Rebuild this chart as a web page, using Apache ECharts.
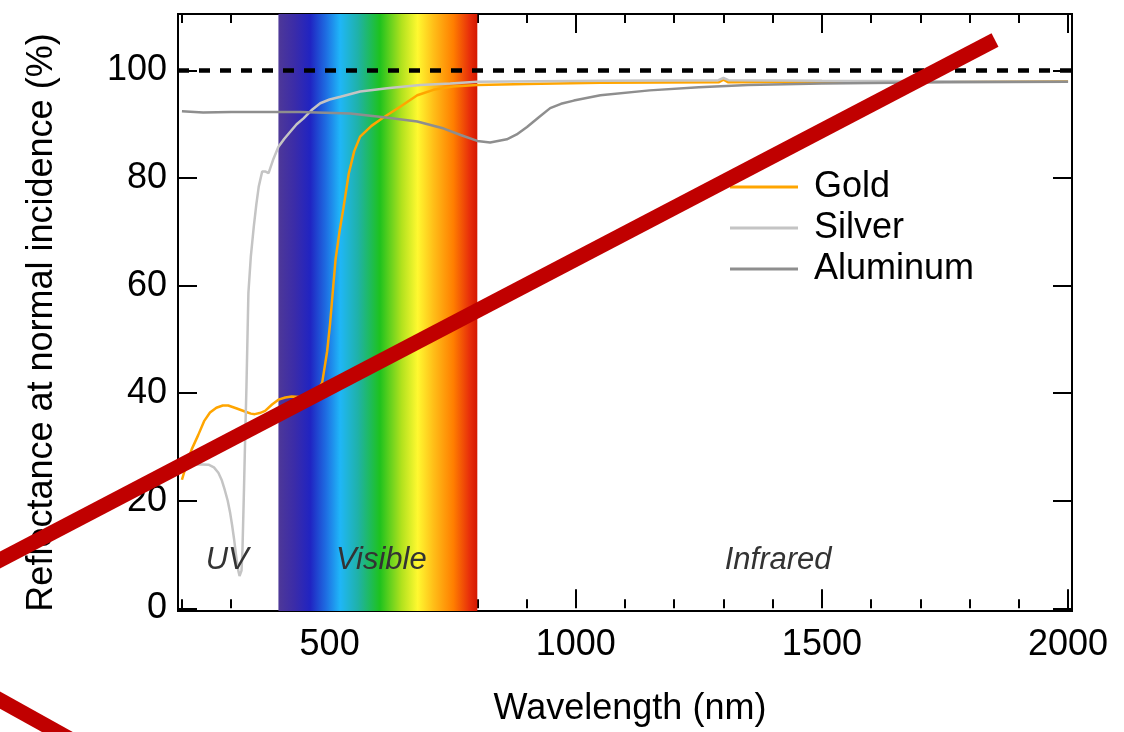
<!DOCTYPE html>
<html>
<head>
<meta charset="utf-8">
<script src="https://cdn.jsdelivr.net/npm/echarts@6/dist/echarts.min.js"></script>
<style>
  html, body { margin: 0; padding: 0; background: #ffffff; }
  #chart { width: 1124px; height: 732px; }
</style>
</head>
<body>
<div id="chart"></div>
<script>
// Reflectance at normal incidence of metal mirrors, [wavelength (nm), reflectance (%)]
const gold = [
  [200, 23.9], [210, 27.0], [220, 29.6], [233, 32.2], [245, 34.8], [257, 36.4],
  [270, 37.3], [283, 37.7], [294, 37.7], [310, 37.2], [328, 36.6], [340, 36.2],
  [348, 36.1], [358, 36.3], [369, 36.7], [383, 37.9], [396, 38.8], [410, 39.2],
  [423, 39.4], [440, 39.3], [460, 39.3], [475, 40.3], [485, 42.0], [495, 47.8],
  [501, 53.0], [507, 59.5], [512, 64.8], [520, 70.0], [528, 74.4], [539, 80.9],
  [550, 85.0], [562, 87.7], [585, 89.7], [610, 91.3], [644, 93.3], [678, 95.4],
  [711, 96.4], [750, 97.0], [800, 97.3], [900, 97.5], [1050, 97.7], [1290, 97.8],
  [1300, 98.3], [1310, 97.8], [1500, 97.9], [2000, 98.0]
];
const silver = [
  [200, 26.6], [230, 26.8], [254, 26.7], [265, 26.2], [274, 25.2], [281, 23.8],
  [287, 22.0], [293, 20.0], [298, 17.7], [302, 15.4], [306, 12.8], [310, 9.8],
  [314, 7.2], [317, 6.0], [319, 5.8], [321, 7.0], [323, 11.0], [326, 22.0],
  [328, 30.0], [331, 41.0], [335, 58.6], [340, 65.5], [346, 71.0], [351, 75.0],
  [356, 78.4], [363, 81.2], [370, 81.2], [376, 80.9], [386, 83.6], [396, 85.8],
  [408, 87.3], [420, 88.6], [433, 90.0], [447, 91.1], [463, 92.6], [481, 93.9],
  [500, 94.6], [522, 95.1], [562, 96.1], [617, 96.7], [684, 97.3], [745, 97.6],
  [800, 97.9], [1050, 98.1], [1290, 98.2], [1300, 98.6], [1310, 98.2], [1500, 98.1],
  [2000, 97.9]
];
const aluminum = [
  [200, 92.4], [243, 92.2], [300, 92.3], [440, 92.3], [542, 92.0], [610, 91.3],
  [678, 90.5], [732, 89.2], [766, 88.0], [800, 86.9], [826, 86.6], [860, 87.2],
  [880, 88.1], [901, 89.5], [925, 91.3], [948, 93.0], [970, 93.8], [996, 94.4],
  [1050, 95.4], [1150, 96.3], [1250, 96.9], [1350, 97.3], [1500, 97.6], [1750, 97.8],
  [2000, 97.9]
];

// Axis ranges and tick positions
const xRange = [192, 2008];
const yRange = [-0.5, 110.5];
const xMajorTicks = [500, 1000, 1500, 2000];
const xMinorTicks = [200, 300, 400, 500, 600, 700, 800, 900, 1000, 1100, 1200, 1300,
                     1400, 1500, 1600, 1700, 1800, 1900, 2000];
const yTicks = [0, 20, 40, 60, 80, 100];

// Spectral regions
const visibleRange = [396, 800];
const perfectReflector = 100;
const regionLabels = [
  { name: 'UV', value: [292, 8.9] },
  { name: 'Visible', value: [605, 8.9] },
  { name: 'Infrared', value: [1411, 8.9] }
];

const FONT = "'Liberation Sans', Arial, Helvetica, sans-serif";
const tickStyle = { color: '#000', width: 2 };

function xAxisLayer(position, ticks, len, withLabels) {
  return {
    type: 'value', position: position, min: xRange[0], max: xRange[1],
    axisLine: { show: false },
    splitLine: { show: false },
    axisTick: { show: true, inside: true, length: len, customValues: ticks, lineStyle: tickStyle },
    axisLabel: withLabels
      ? { show: true, customValues: xMajorTicks, margin: 16, fontSize: 36, color: '#000',
          fontFamily: FONT, formatter: v => String(v) }
      : { show: false }
  };
}

const chart = echarts.init(document.getElementById('chart'));
chart.setOption({
  animation: false,
  backgroundColor: '#ffffff',
  grid: {
    left: 178, right: 52, top: 14, bottom: 121,
    show: true, borderColor: '#000', borderWidth: 2, backgroundColor: 'transparent'
  },
  legend: {
    orient: 'vertical', left: 725, top: 164,
    icon: 'rect', itemWidth: 68, itemHeight: 3, itemGap: 5,
    data: ['Gold', 'Silver', 'Aluminum'],
    textStyle: { fontSize: 36, color: '#000', fontFamily: FONT, padding: [0, 0, 0, 11] }
  },
  xAxis: [
    Object.assign(xAxisLayer('bottom', xMajorTicks, 19, true), {
      name: 'Wavelength (nm)', nameLocation: 'middle', nameGap: 80,
      nameTextStyle: { fontSize: 36, color: '#000', fontFamily: FONT, padding: [0, 0, 0, 10] }
    }),
    xAxisLayer('bottom', xMinorTicks, 9, false),
    xAxisLayer('top', xMajorTicks, 19, false),
    xAxisLayer('top', xMinorTicks, 9, false)
  ],
  yAxis: [
    {
      type: 'value', position: 'left', min: yRange[0], max: yRange[1],
      axisLine: { show: false }, splitLine: { show: false },
      axisTick: { show: true, inside: true, length: 19, customValues: yTicks, lineStyle: tickStyle },
      axisLabel: { show: true, customValues: yTicks, margin: 11, fontSize: 36, color: '#000', fontFamily: FONT },
      name: 'Reflectance at normal incidence (%)', nameLocation: 'middle', nameGap: 118,
      nameTextStyle: { fontSize: 36, color: '#000', fontFamily: FONT, padding: [0, 20, 0, 0] }
    },
    {
      type: 'value', position: 'right', min: yRange[0], max: yRange[1],
      axisLine: { show: false }, splitLine: { show: false },
      axisTick: { show: true, inside: true, length: 19, customValues: yTicks, lineStyle: tickStyle },
      axisLabel: { show: false }
    }
  ],
  series: [
    {
      // visible spectrum band
      name: 'spectrum', type: 'line', data: [], z: 1, silent: true,
      markArea: {
        silent: true,
        itemStyle: {
          color: {
            type: 'linear', x: 0, y: 0, x2: 1, y2: 0,
            colorStops: [
              { offset: 0.00, color: '#4e3898' },
              { offset: 0.08, color: '#3b2ca8' },
              { offset: 0.16, color: '#2024c2' },
              { offset: 0.24, color: '#1e6ee2' },
              { offset: 0.31, color: '#1fb6f8' },
              { offset: 0.40, color: '#1fb2a8' },
              { offset: 0.51, color: '#1ec21e' },
              { offset: 0.62, color: '#b2e21e' },
              { offset: 0.70, color: '#fff830' },
              { offset: 0.78, color: '#ffbe18' },
              { offset: 0.88, color: '#ff7e00' },
              { offset: 0.96, color: '#e8300a' },
              { offset: 1.00, color: '#d41800' }
            ]
          }
        },
        data: [[{ xAxis: visibleRange[0] }, { xAxis: visibleRange[1] }]]
      }
    },
    {
      name: 'Gold', type: 'line', data: gold, z: 3, showSymbol: false, symbol: 'none',
      color: '#ffa500', lineStyle: { color: '#ffa500', width: 2.5 }
    },
    {
      name: 'Silver', type: 'line', data: silver, z: 3, showSymbol: false, symbol: 'none',
      color: '#c4c4c4', lineStyle: { color: '#c4c4c4', width: 2.5 }
    },
    {
      name: 'Aluminum', type: 'line', data: aluminum, z: 3, showSymbol: false, symbol: 'none',
      color: '#8e8e8e', lineStyle: { color: '#8e8e8e', width: 2.5 }
    },
    {
      // region names and the 100 % reference level
      name: 'regions', type: 'scatter', data: regionLabels, z: 4, silent: true,
      symbolSize: 0.1, itemStyle: { color: '#333333', opacity: 1 },
      label: {
        show: true, position: 'inside', formatter: '{b}', opacity: 1,
        fontSize: 31, fontStyle: 'italic', color: '#333333', fontFamily: FONT
      },
      markLine: {
        silent: true, symbol: 'none', label: { show: false },
        lineStyle: { color: '#000', width: 4.5, type: [11, 10], opacity: 1 },
        data: [{ yAxis: perfectReflector }]
      }
    }
  ],
  graphic: [
    {
      type: 'line', z: 100, silent: true,
      shape: { x1: -20, y1: 570.4, x2: 995, y2: 40 },
      style: { stroke: '#c00000', lineWidth: 15, lineCap: 'butt' }
    },
    {
      type: 'line', z: 100, silent: true,
      shape: { x1: -20, y1: 688.9, x2: 150, y2: 783.6 },
      style: { stroke: '#c00000', lineWidth: 15, lineCap: 'butt' }
    }
  ]
});
</script>
</body>
</html>
